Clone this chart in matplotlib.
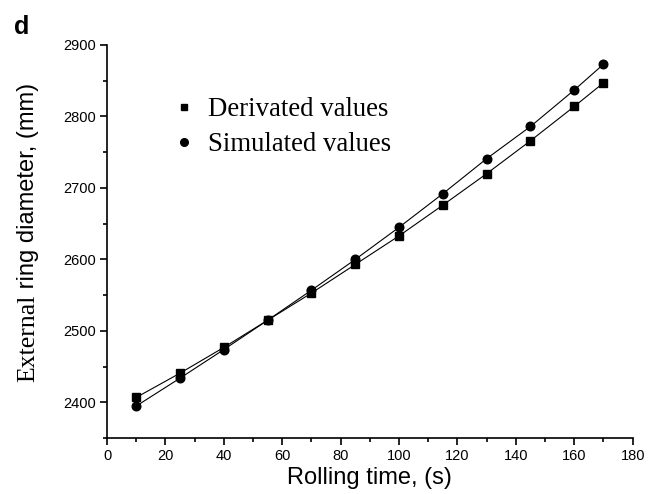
import matplotlib
matplotlib.use('Agg')
import matplotlib.pyplot as plt
from matplotlib.lines import Line2D
from matplotlib.ticker import MultipleLocator

# rolling time (s)
time_s = [10, 25, 40, 55, 70, 85, 100, 115, 130, 145, 160, 170]
# external ring diameter (mm)
derivated = [2407, 2441, 2477, 2515, 2553, 2593, 2633, 2676, 2720, 2766, 2814, 2847]
simulated = [2395, 2434, 2474, 2515, 2557, 2600, 2645, 2692, 2741, 2786, 2837, 2873]

fig = plt.figure(figsize=(6.57, 4.94), dpi=100)
ax = fig.add_axes([0.163, 0.113, 0.8, 0.796])

ax.plot(time_s, derivated, color='black', lw=0.8, marker='s', ms=5.5)
ax.plot(time_s, simulated, color='black', lw=0.8, marker='o', ms=6.2)

ax.set_xlim(0, 180)
ax.set_ylim(2350, 2900)
ax.xaxis.set_major_locator(MultipleLocator(20))
ax.xaxis.set_minor_locator(MultipleLocator(10))
ax.yaxis.set_major_locator(MultipleLocator(100))
ax.yaxis.set_minor_locator(MultipleLocator(50))

for side in ['top', 'right']:
    ax.spines[side].set_visible(False)
for side in ['left', 'bottom']:
    ax.spines[side].set_linewidth(1.2)
ax.tick_params(which='both', direction='out', width=1.2)
ax.tick_params(which='major', length=5, pad=3, labelsize=10.5)
ax.tick_params(which='minor', length=3)
for lbl in ax.get_xticklabels() + ax.get_yticklabels():
    lbl.set_fontfamily('Liberation Sans')

ax.set_xlabel('Rolling time, (s)', fontsize=17, family='Liberation Sans', labelpad=3)

# y label: first word in serif, the rest in sans, as in the original
renderer = fig.canvas.get_renderer()
xb, y0 = 0.052, 0.2267
t1 = fig.text(xb, y0, 'External', rotation=90, rotation_mode='anchor',
              ha='left', va='baseline', family='Liberation Serif', fontsize=18.5)
ext = t1.get_window_extent(renderer)
y1 = y0 + ext.height / fig.bbox.height
fig.text(xb, y1, ' ring diameter, (mm)', rotation=90, rotation_mode='anchor',
         ha='left', va='baseline', family='Liberation Sans', fontsize=17)

handles = [Line2D([], [], ls='none', color='black', marker='s', ms=5),
           Line2D([], [], ls='none', color='black', marker='o', ms=5.5)]
ax.legend(handles, ['Derivated values', 'Simulated values'],
          loc='upper left', bbox_to_anchor=(0.11, 0.895), frameon=False,
          prop={'family': 'Liberation Serif', 'size': 19.3},
          handlelength=0.6, handletextpad=0.6, labelspacing=0.37, borderaxespad=0)

fig.text(0.022, 0.931, 'd', fontsize=18, fontweight='bold', family='Liberation Sans',
         va='baseline')

fig.savefig('out.png', dpi=100)
